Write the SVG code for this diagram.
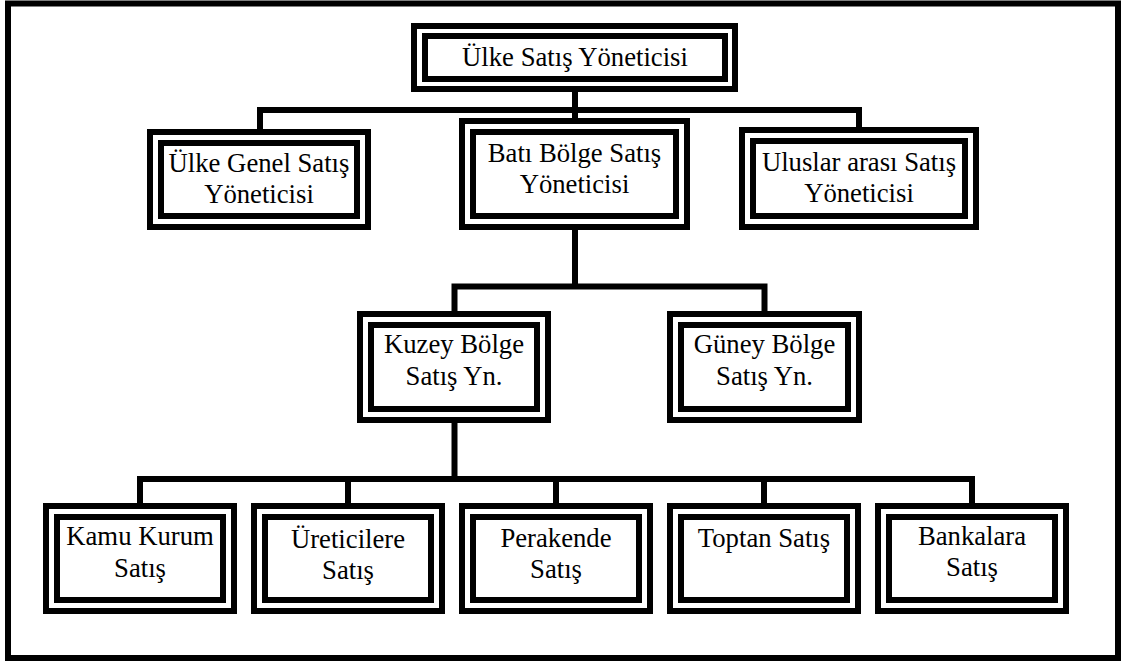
<svg xmlns="http://www.w3.org/2000/svg" width="1122" height="661" viewBox="0 0 1122 661">
<style>
.ob{fill:#fff;stroke:#000;stroke-width:6}
.ib{fill:none;stroke:#000;stroke-width:6}
.c{fill:none;stroke:#000;stroke-width:6;stroke-linejoin:miter;stroke-linecap:butt}
.t{font-family:"Liberation Serif","Times New Roman",serif;font-size:26.7px;text-anchor:middle;fill:#000}
</style>
<rect x="0" y="0" width="1122" height="661" fill="#fff"/>
<rect id="frame" x="8" y="3.5" width="1110" height="654.5" fill="none" stroke="#000" stroke-width="6"/>
<g id="connectors">
<path class="c" d="M575,92 V120"/>
<path class="c" d="M260,131 V110 H859 V129"/>
<path class="c" d="M575,228 V286.5"/>
<path class="c" d="M454.5,313 V286.5 H764.5 V313"/>
<path class="c" d="M454.5,421 V479"/>
<path class="c" d="M140,505 V479 H972 V505"/>
<path class="c" d="M348,479 V505"/>
<path class="c" d="M556,479 V505"/>
<path class="c" d="M764,479 V505"/>
</g>
<g id="n-top">
<rect class="ob" x="414" y="26" width="321" height="63"/>
<rect class="ib" x="425" y="36" width="300" height="43"/>
<text class="t" x="575" y="66">Ülke Satış Yöneticisi</text>
</g>
<g id="n-genel">
<rect class="ob" x="150" y="132" width="218" height="95"/>
<rect class="ib" x="161" y="143" width="196" height="73"/>
<text class="t" x="259" y="172">Ülke Genel Satış</text>
<text class="t" x="259" y="203">Yöneticisi</text>
</g>
<g id="n-bati">
<rect class="ob" x="462" y="121" width="225" height="106"/>
<rect class="ib" x="473" y="132" width="203" height="84"/>
<text class="t" x="574.5" y="162">Batı Bölge Satış</text>
<text class="t" x="574.5" y="193">Yöneticisi</text>
</g>
<g id="n-uluslar">
<rect class="ob" x="742" y="130" width="234" height="97"/>
<rect class="ib" x="753" y="141" width="212" height="75"/>
<text class="t" x="859" y="171">Uluslar arası Satış</text>
<text class="t" x="859" y="202">Yöneticisi</text>
</g>
<g id="n-kuzey">
<rect class="ob" x="360" y="314" width="188" height="106"/>
<rect class="ib" x="371" y="325" width="166" height="84"/>
<text class="t" x="454" y="353">Kuzey Bölge</text>
<text class="t" x="454" y="385">Satış Yn.</text>
</g>
<g id="n-guney">
<rect class="ob" x="670" y="314" width="189" height="106"/>
<rect class="ib" x="681" y="325" width="167" height="84"/>
<text class="t" x="764.5" y="353">Güney Bölge</text>
<text class="t" x="764.5" y="385">Satış Yn.</text>
</g>
<g id="n-kamu">
<rect class="ob" x="46" y="506" width="188" height="105"/>
<rect class="ib" x="57" y="517" width="166" height="83"/>
<text class="t" x="140" y="545">Kamu Kurum</text>
<text class="t" x="140" y="577">Satış</text>
</g>
<g id="n-ureticilere">
<rect class="ob" x="254" y="506" width="188" height="105"/>
<rect class="ib" x="265" y="517" width="166" height="83"/>
<text class="t" x="348" y="548">Üreticilere</text>
<text class="t" x="348" y="579">Satış</text>
</g>
<g id="n-perakende">
<rect class="ob" x="462" y="506" width="188" height="105"/>
<rect class="ib" x="473" y="517" width="166" height="83"/>
<text class="t" x="556" y="547">Perakende</text>
<text class="t" x="556" y="578">Satış</text>
</g>
<g id="n-toptan">
<rect class="ob" x="670" y="506" width="188" height="105"/>
<rect class="ib" x="681" y="517" width="166" height="83"/>
<text class="t" x="764" y="547">Toptan Satış</text>
</g>
<g id="n-bankalara">
<rect class="ob" x="878" y="506" width="188" height="105"/>
<rect class="ib" x="889" y="517" width="166" height="83"/>
<text class="t" x="972" y="545">Bankalara</text>
<text class="t" x="972" y="576">Satış</text>
</g>
</svg>
